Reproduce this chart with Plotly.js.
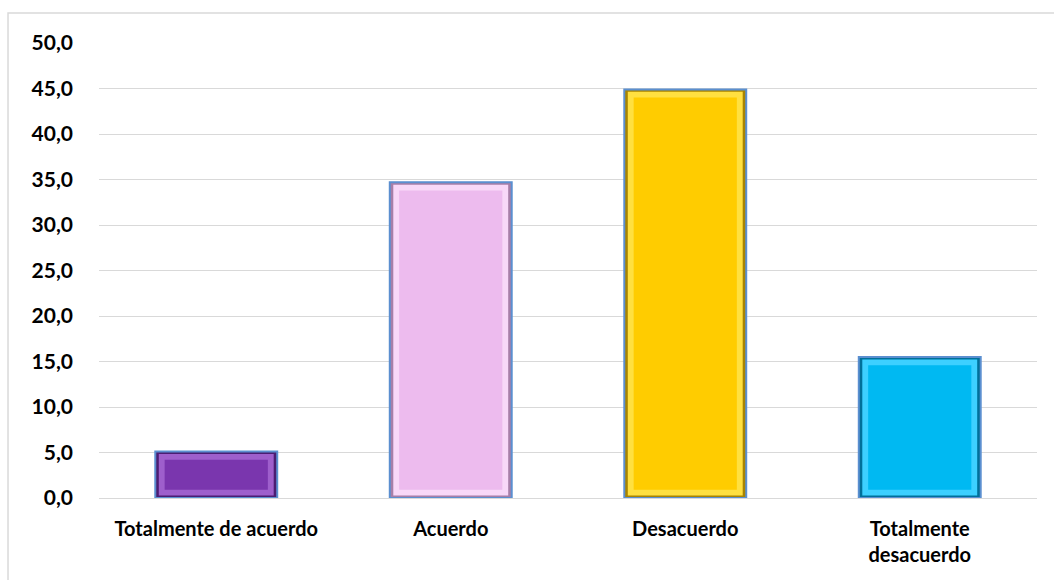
<!DOCTYPE html>
<html>
<head>
<meta charset="utf-8">
<script src="https://cdn.plot.ly/plotly-3.0.1.min.js"></script>
<style>html,body{margin:0;padding:0;background:#fff;}#chart{width:1054px;height:580px;}</style>
</head>
<body>
<div id="chart"></div>
<script>
const categories = ["Totalmente de acuerdo", "Acuerdo", "Desacuerdo", "Totalmente<br>desacuerdo"];
const values = [5.1, 34.7, 44.9, 15.5];
const edgeColors = ["#4B1D72", "#A77FA8", "#A88400", "#00709A"];
const mainColors = ["#7A36AE", "#EDBBEE", "#FFCC00", "#00B9F2"];
const lightColors = ["#9E5FCC", "#F8D8F8", "#FFE040", "#3DD0FF"];
const yTicks = [0, 5, 10, 15, 20, 25, 30, 35, 40, 45, 50];

const inset = 0.9;
const outer = {
  type: "bar", x: categories, y: values, width: 0.52,
  marker: {color: edgeColors, line: {color: "#5B8FD0", width: 2}},
  hoverinfo: "skip"
};
const mid = {
  type: "bar", x: categories, y: values.map(v => v - inset * 0.6), base: inset * 0.3, width: 0.49,
  marker: {color: lightColors, line: {width: 0}}, hoverinfo: "skip"
};
const inner = {
  type: "bar", x: categories, y: values.map(v => Math.max(v - inset * 2, 0.2)), base: inset, width: 0.44,
  marker: {color: mainColors, line: {width: 0}}, hoverinfo: "skip"
};

const layout = {
  width: 1054, height: 580,
  margin: {l: 99, r: 17, t: 43, b: 82},
  paper_bgcolor: "#ffffff", plot_bgcolor: "#ffffff",
  showlegend: false, barmode: "overlay",
  separators: ",.",
  font: {family: "Lato, sans-serif", size: 20, color: "#000"},
  xaxis: {
    type: "category", showgrid: false, showline: false, zeroline: false, ticks: "",
    tickfont: {family: "Lato, sans-serif", size: 20, color: "#000", weight: "bold"},
    ticklabelstandoff: 17
  },
  yaxis: {
    range: [0, 50], tickvals: yTicks, tickformat: ".1f",
    showgrid: true, gridcolor: "#D9D9D9", gridwidth: 1,
    zeroline: true, zerolinecolor: "#D9D9D9", zerolinewidth: 1,
    showline: false, ticks: "",
    tickfont: {family: "Lato, sans-serif", size: 21, color: "#000", weight: "bold"},
    ticklabelstandoff: 25
  },
  shapes: [{
    type: "rect", xref: "paper", yref: "paper",
    x0: -0.097, x1: 1.03, y0: -0.3, y1: 1.066,
    line: {color: "#D9D9D9", width: 1.5}, fillcolor: "rgba(0,0,0,0)", layer: "below"
  }]
};

Plotly.newPlot("chart", [outer, mid, inner], layout, {displayModeBar: false, staticPlot: true});
</script>
</body>
</html>
